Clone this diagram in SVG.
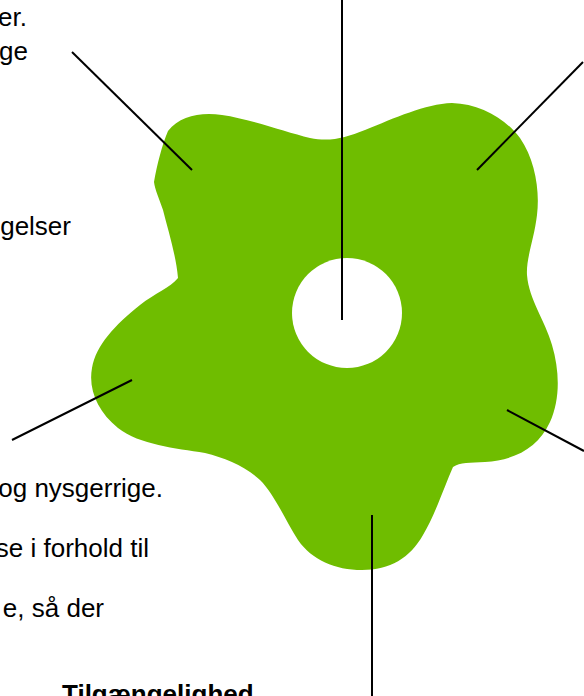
<svg xmlns="http://www.w3.org/2000/svg" width="584" height="696" viewBox="0 0 584 696">
<style>
.t{font-family:"Liberation Sans",Arial,sans-serif;font-size:26px;fill:#000}
.b{font-weight:bold}
.c line{stroke:#000;stroke-width:2}
</style>
<rect width="584" height="696" fill="#fff"/>
<g id="flower">
<path fill="#6fbd00" d="M 154,182 C 157,165 162,145 168,131 C 180,116 200,112 222,115 C 250,119 285,132 310,138 C 330,142 345,138 365,130 C 395,118 425,104 452,103 C 480,104 505,118 520,138 C 535,160 540,190 537,215 C 534,240 526,258 527,275 C 529,300 545,320 552,345 C 560,372 560,400 550,422 C 538,448 515,460 485,462 C 470,463 460,462 453,467 C 445,485 435,515 423,535 C 410,558 390,570 362,570 C 335,570 312,560 298,540 C 285,520 275,495 260,480 C 245,466 225,458 205,453 C 175,448 140,445 118,428 C 98,412 88,390 92,368 C 96,345 115,325 140,305 C 155,293 170,288 178,278 C 176,255 168,230 163,210 C 159,198 155,190 154,182 Z"/>
<circle cx="347" cy="313" r="55" fill="#fff"/>
</g>
<g id="label-top-left">
<text class="t" x="27" y="26" text-anchor="end">er.</text>
<text class="t" x="28" y="60" text-anchor="end">ge</text>
</g>
<g id="label-left">
<text class="t" x="71" y="235" text-anchor="end">gelser</text>
</g>
<g id="label-bottom-left">
<text class="t" x="163" y="497" text-anchor="end">og nysgerrige.</text>
<text class="t" x="149" y="557" text-anchor="end">se i forhold til</text>
<text class="t" x="104" y="617" text-anchor="end">e, så der</text>
</g>
<g id="label-bottom">
<text class="t b" x="62" y="703">Tilgængelighed</text>
</g>
<g id="connectors" class="c">
<line x1="72" y1="52" x2="192" y2="170"/>
<line x1="342" y1="0" x2="342" y2="320"/>
<line x1="583" y1="62" x2="477" y2="170"/>
<line x1="12" y1="440" x2="132" y2="380"/>
<line x1="507" y1="410" x2="584" y2="451"/>
<line x1="372" y1="515" x2="372" y2="696"/>
</g>
</svg>
